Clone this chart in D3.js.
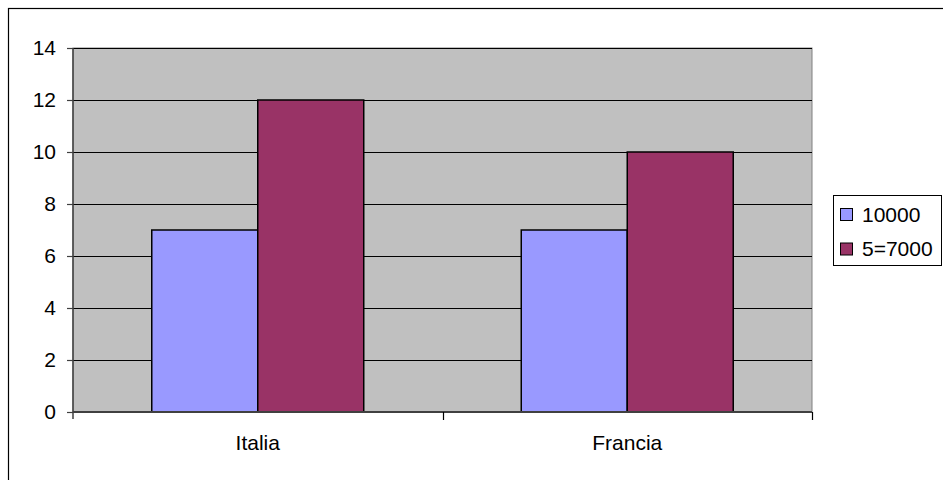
<!DOCTYPE html>
<html>
<head>
<meta charset="utf-8">
<script src="https://cdn.jsdelivr.net/npm/d3@7"></script>
<style>
  html, body { margin: 0; padding: 0; background: #fff; }
  svg { display: block; font-family: "Liberation Sans", Arial, sans-serif; }
</style>
</head>
<body>
<svg id="chart" width="943" height="480"></svg>
<script>
// Data
const categories = ["Italia", "Francia"];
const seriesNames = ["10000", "5=7000"];
const series1 = [7, 7];
const series2 = [12, 10];
const yTicks = [0, 2, 4, 6, 8, 10, 12, 14];
const seriesColors = ["#9999FF", "#993366"];

const svg = d3.select("#chart");
const W = 943, H = 480;
const plot = { left: 73, right: 812, top: 48, bottom: 412 };
const fontSize = 21;

// Outer chart frame
svg.append("rect")
  .attr("x", 8.5).attr("y", 8.5)
  .attr("width", W).attr("height", H)
  .attr("fill", "#fff").attr("stroke", "#000").attr("stroke-width", 1.2);

// Scales
const x0 = d3.scaleBand().domain(categories).range([plot.left, plot.right]).padding(0);
const x1 = d3.scaleBand().domain(seriesNames).range([0, x0.bandwidth()])
  .paddingInner(0).paddingOuter(0.743);
const y = d3.scaleLinear().domain([0, 14]).range([plot.bottom, plot.top]);

// Plot area background
svg.append("rect")
  .attr("x", plot.left).attr("y", plot.top)
  .attr("width", plot.right - plot.left).attr("height", plot.bottom - plot.top)
  .attr("fill", "#C0C0C0").attr("stroke", "#808080").attr("stroke-width", 1);

// Gridlines
svg.append("g").selectAll("line")
  .data(yTicks.filter(d => d > 0))
  .join("line")
  .attr("x1", plot.left).attr("x2", plot.right)
  .attr("y1", d => Math.round(y(d)) + 0.5).attr("y2", d => Math.round(y(d)) + 0.5)
  .attr("stroke", "#000").attr("stroke-width", 1);

// Bars
const rows = categories.map((c, i) => ({ cat: c, values: [series1[i], series2[i]] }));
const groups = svg.append("g").selectAll("g")
  .data(rows).join("g")
  .attr("transform", d => `translate(${x0(d.cat)},0)`);
groups.selectAll("rect")
  .data(d => d.values.map((v, j) => ({ name: seriesNames[j], value: v, color: seriesColors[j] })))
  .join("rect")
  .attr("x", d => x1(d.name))
  .attr("y", d => y(d.value))
  .attr("width", x1.bandwidth())
  .attr("height", d => y(0) - y(d.value))
  .attr("fill", d => d.color)
  .attr("stroke", "#000").attr("stroke-width", 1.5);

// Y axis
const yAxis = d3.axisLeft(y).tickValues(yTicks).tickSize(6).tickPadding(11).tickFormat(d3.format("d"));
const gy = svg.append("g").attr("transform", `translate(${plot.left},0)`).call(yAxis);
gy.select(".domain").attr("d", `M0,${plot.top}V${plot.bottom + 7}`).attr("stroke", "#404040").attr("stroke-width", 1.5);
gy.selectAll(".tick line").attr("stroke", "#404040").attr("stroke-width", 1.2);
gy.selectAll(".tick text").attr("fill", "#000").style("font-size", fontSize + "px")
  .style("font-family", '"Liberation Sans", Arial, sans-serif');

// X axis: ticks sit on category boundaries
const xAxis = svg.append("g").attr("transform", `translate(0,${plot.bottom})`);
xAxis.append("line")
  .attr("x1", plot.left).attr("x2", plot.right)
  .attr("y1", 0).attr("y2", 0)
  .attr("stroke", "#404040").attr("stroke-width", 2);
const boundaries = categories.map(c => x0(c)).concat([x0(categories[categories.length - 1]) + x0.bandwidth()]);
xAxis.selectAll("line.tk")
  .data(boundaries.slice(1))
  .join("line").attr("class", "tk")
  .attr("x1", d => Math.round(d) + 0.5).attr("x2", d => Math.round(d) + 0.5)
  .attr("y1", 0).attr("y2", 8)
  .attr("stroke", "#000").attr("stroke-width", 1.2);
xAxis.selectAll("text")
  .data(categories).join("text")
  .attr("x", d => x0(d) + x0.bandwidth() / 2)
  .attr("y", 31)
  .attr("dy", "0.35em")
  .attr("text-anchor", "middle")
  .style("font-size", fontSize + "px")
  .text(d => d);

// Legend
const legend = svg.append("g");
legend.append("rect")
  .attr("x", 833.5).attr("y", 195.5)
  .attr("width", 108).attr("height", 70)
  .attr("fill", "#fff").attr("stroke", "#000").attr("stroke-width", 1);
const items = legend.selectAll("g.item")
  .data(seriesNames).join("g").attr("class", "item")
  .attr("transform", (d, i) => `translate(840,${208 + i * 34.5})`);
items.append("rect")
  .attr("x", 0.5).attr("y", 0.5).attr("width", 12).attr("height", 12)
  .attr("fill", (d, i) => seriesColors[i]).attr("stroke", "#000").attr("stroke-width", 1);
items.append("text")
  .attr("x", 22).attr("y", 6.5).attr("dy", "0.35em")
  .style("font-size", fontSize + "px")
  .text(d => d);
</script>
</body>
</html>
